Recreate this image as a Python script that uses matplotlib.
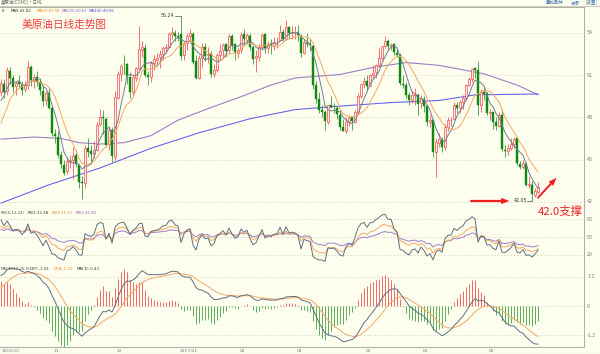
import numpy as np
import pandas as pd
import matplotlib
matplotlib.use("Agg")
import matplotlib.pyplot as plt
from matplotlib.patches import FancyArrowPatch
from matplotlib.lines import Line2D

plt.rcParams['font.family'] = ['Noto Sans CJK SC', 'DejaVu Sans']

# ---------------- data (daily OHLC, 2016-10-06 .. 2017-06-23) ----------------
oct_o = [49.8,50.4,49.9,51.3,50.8,50.2,50.5,50.3,50.0,50.3,51.6,50.6,50.9,50.5,49.9,49.2,49.7,48.7]
oct_h = [50.7,50.7,51.6,51.6,51.0,50.6,51.0,50.6,50.6,52.0,51.7,51.1,51.3,50.8,50.2,49.9,50.1,48.9]
oct_l = [49.5,49.4,49.6,50.4,49.8,49.6,50.1,49.6,49.8,50.0,50.2,50.1,50.2,49.6,48.8,48.9,48.6,46.7]
oct_c = [50.44,49.81,51.35,50.79,50.18,50.44,50.35,49.94,50.29,51.60,50.63,50.85,50.52,49.96,49.18,49.72,48.70,46.86]

nov_o = [46.8,46.6,45.3,44.6,44.2,44.9,45.0,45.3,44.6,43.4,43.3,45.8,45.6,45.4,45.7,47.5,48.0,47.9,46.1,47.1,45.2]
nov_h = [47.2,47.0,45.6,45.0,45.2,45.3,45.9,45.7,44.7,43.8,46.0,46.5,46.0,46.3,47.7,48.6,48.5,48.0,47.3,47.3,49.9]
nov_l = [46.2,45.1,44.4,43.9,44.0,44.4,43.6,44.5,43.0,42.2,43.0,45.2,44.7,45.1,45.6,47.4,46.8,45.9,45.7,44.8,45.0]
nov_c = [46.67,45.34,44.66,44.07,44.89,44.98,45.27,44.66,43.41,43.32,45.81,45.57,45.42,45.69,47.49,48.03,47.96,46.06,47.08,45.23,49.44]

dec_o = [49.4,51.1,51.8,51.8,50.9,49.8,50.8,51.5,52.8,52.9,51.0,50.9,51.9,52.1,52.3,52.5,52.9,53.0,53.9,54.0,53.8]
dec_h = [51.3,51.8,52.4,51.9,51.2,51.0,51.6,54.5,53.4,53.2,51.3,52.0,52.4,52.6,52.8,53.1,53.2,54.1,54.4,54.2,54.1]
dec_l = [49.3,50.6,51.1,50.4,49.4,49.6,50.6,51.4,52.3,50.9,50.3,50.5,51.4,51.7,51.5,52.1,52.6,53.0,53.6,53.4,53.4]
dec_c = [51.06,51.68,51.79,50.93,49.77,50.84,51.50,52.83,52.98,51.04,50.90,51.90,52.12,52.23,52.49,52.95,53.02,53.90,54.06,53.77,53.72]

jan_o = [53.9,52.4,53.3,53.8,53.9,52.0,50.8,52.2,53.0,52.4,52.5,51.1,51.4,52.4,52.8,53.2,52.8,53.8,53.2,52.6]
jan_h = [55.24,53.4,54.0,54.3,54.1,52.4,52.4,53.3,53.3,53.0,52.7,51.8,52.6,53.2,53.3,53.3,53.9,53.9,53.3,52.9]
jan_l = [52.1,52.1,52.8,53.4,51.8,50.7,50.7,51.6,52.0,51.9,50.9,50.9,51.2,52.1,52.3,52.3,52.6,52.8,52.1,52.2]
jan_c = [52.33,53.26,53.76,53.99,51.96,50.82,52.25,53.01,52.37,52.48,51.08,51.37,52.42,52.75,53.18,52.75,53.78,53.17,52.63,52.81]

feb_o = [52.8,53.9,53.5,53.8,53.0,52.2,52.3,53.0,53.9,52.9,53.2,53.1,53.4,53.5,54.1,53.6,54.4,54.0,54.0]
feb_h = [54.1,54.3,54.0,54.0,53.1,52.8,53.2,54.0,53.9,53.4,53.6,53.7,53.7,54.6,54.3,54.9,54.5,54.5,54.5]
feb_l = [52.6,53.1,53.2,52.8,51.8,51.2,52.0,52.8,52.6,52.6,52.5,52.8,52.9,53.4,53.4,53.5,53.6,53.6,53.6]
feb_c = [53.88,53.54,53.83,53.01,52.17,52.34,53.00,53.86,52.93,53.20,53.11,53.36,53.40,54.06,53.59,54.45,53.99,54.05,54.01]

mar_o = [54.0,53.8,52.6,53.3,53.2,53.1,50.3,49.3,48.5,48.4,47.7,48.9,48.8,48.7,48.2,47.3,47.0,47.7,48.0,47.7,48.4,49.5,50.4]
mar_h = [54.6,53.9,53.6,54.0,53.6,53.2,50.6,49.8,48.9,48.5,48.9,49.5,49.0,48.8,48.5,47.9,48.0,48.2,48.1,48.5,49.7,50.4,50.9]
mar_l = [53.4,52.3,52.5,53.0,52.7,50.0,49.0,48.3,48.0,47.1,47.5,48.7,48.3,47.9,47.1,47.0,46.9,47.4,47.1,47.6,48.3,49.4,50.1]
mar_c = [53.83,52.61,53.33,53.20,53.14,50.28,49.28,48.49,48.40,47.72,48.86,48.75,48.78,48.22,47.34,47.04,47.70,47.97,47.73,48.37,49.51,50.35,50.60]

apr_o = [50.6,50.2,51.0,51.2,51.7,52.2,53.1,53.4,53.1,53.2,52.6,52.4,50.4,50.3,49.6,49.2,49.6,49.6,49.0]
apr_h = [51.0,51.1,51.7,51.8,52.9,53.1,53.8,53.6,53.3,53.3,52.9,52.6,51.0,50.5,49.8,49.9,50.1,49.7,49.6]
apr_l = [49.9,50.2,50.8,50.8,51.6,52.1,52.9,52.8,52.8,52.4,52.3,50.3,50.1,49.4,48.9,49.0,48.9,48.2,48.7]
apr_c = [50.24,51.03,51.15,51.70,52.24,53.08,53.40,53.11,53.18,52.65,52.41,50.44,50.27,49.62,49.23,49.56,49.62,48.97,49.33]

may_o = [49.3,48.8,47.7,47.8,45.5,46.2,46.4,45.9,47.3,47.8,47.9,48.9,48.7,49.1,49.4,50.3,50.7,51.5,51.4,48.9,49.8,49.7]
may_h = [49.5,48.9,48.2,47.9,46.5,46.9,46.6,47.5,48.0,48.0,49.1,49.1,49.2,49.6,50.4,50.9,51.5,51.6,52.0,50.0,50.2,49.8]
may_l = [48.4,47.4,47.3,45.2,43.76,45.9,45.5,45.7,47.0,47.4,47.8,48.3,48.3,48.6,49.2,50.2,50.5,50.8,48.2,48.4,49.2,48.2]
may_c = [48.84,47.66,47.82,45.52,46.22,46.43,45.88,47.33,47.83,47.84,48.85,48.66,49.07,49.35,50.33,50.73,51.47,51.36,48.90,49.80,49.66,48.32]

jun_o = [48.3,48.4,47.7,47.4,48.2,45.7,45.6,45.8,46.1,46.5,44.7,44.5,44.7,43.2,43.2,42.5,42.7]
jun_h = [48.6,48.4,48.0,48.4,48.6,46.0,46.1,46.5,46.6,46.6,44.9,45.0,44.8,43.8,43.5,43.0,43.4]
jun_l = [47.8,47.2,47.1,47.3,45.6,45.2,45.3,45.7,45.8,44.6,44.3,44.3,43.1,43.0,42.05,42.3,42.6]
jun_c = [48.36,47.66,47.40,48.19,45.72,45.64,45.83,46.08,46.46,44.73,44.46,44.74,43.20,43.23,42.53,42.74,43.01]

# closes before the visible window (for MA5/MA10/RSI/MACD warm-up)
warmup_closes = [40.06,39.51,40.83,41.93,41.80,43.02,42.77,41.71,43.49,44.49,45.74,46.58,46.79,48.22,
                 48.52,47.05,48.10,46.77,47.33,47.64,46.98,46.35,44.70,43.16,44.44,44.83,45.50,47.62,
                 45.88,46.29,44.90,43.58,43.91,43.03,43.30,43.44,45.34,46.32,44.48,45.93,44.67,47.05,
                 47.83,48.24,48.81,48.69,49.83]

# long moving averages (bar index, value)
ma100_idx = [0, 11, 20, 26, 33, 41, 50, 59, 70, 81, 90, 98, 113, 124, 135, 146, 161, 172, 179]
ma100_val = [46.45, 46.6, 46.5, 46.2, 46.1, 46.2, 46.7, 47.8, 48.7, 49.55, 50.3, 50.8, 51.05, 51.55, 51.9, 51.7, 51.1, 50.3, 49.61]
ma200_idx = [0, 16, 33, 50, 66, 83, 98, 113, 130, 146, 158, 179]
ma200_val = [41.9, 43.2, 44.4, 45.8, 46.9, 47.9, 48.55, 48.8, 49.05, 49.2, 49.6, 49.66]

month_labels = ["2016/10", "11", "12", "2017/01", "02", "03", "04", "05", "06"]
month_lengths = [18, 21, 21, 20, 19, 23, 19, 22, 17]

opens = np.array(oct_o + nov_o + dec_o + jan_o + feb_o + mar_o + apr_o + may_o + jun_o)
highs = np.array(oct_h + nov_h + dec_h + jan_h + feb_h + mar_h + apr_h + may_h + jun_h)
lows = np.array(oct_l + nov_l + dec_l + jan_l + feb_l + mar_l + apr_l + may_l + jun_l)
closes = np.array(oct_c + nov_c + dec_c + jan_c + feb_c + mar_c + apr_c + may_c + jun_c)
N = len(closes)
idx = np.arange(N)

# ---------------- indicators ----------------
s = pd.Series(list(warmup_closes) + list(closes))
ma5 = s.rolling(5).mean().values[-N:]
ma10 = s.rolling(10).mean().values[-N:]
ema12 = s.ewm(span=12, adjust=False).mean()
ema26 = s.ewm(span=26, adjust=False).mean()
dif = ema12 - ema26
dea = dif.ewm(span=9, adjust=False).mean()
hist = 2 * (dif - dea)
dif, dea, hist = dif.values[-N:], dea.values[-N:], hist.values[-N:]

def rsi(n):
    d = s.diff().fillna(0)
    up = d.clip(lower=0).ewm(alpha=1.0 / n, adjust=False).mean()
    ab = d.abs().ewm(alpha=1.0 / n, adjust=False).mean()
    return (up / ab * 100).values[-N:]

rsi6, rsi12, rsi24 = rsi(6), rsi(12), rsi(24)

# ---------------- figure ----------------
W, H = 600, 354
BG = '#fffff0'
fig = plt.figure(figsize=(6, 3.54), dpi=100, facecolor=BG)

def fx(px):
    return px / W

def fy(py):
    return 1 - py / H

right_px = 584
main_top, main_bot = 7, 209
rsi_bot = 264
macd_bot = 347

ax = fig.add_axes([0, fy(main_bot), fx(right_px), (main_bot - main_top) / H], facecolor=BG)
axr = fig.add_axes([0, fy(rsi_bot), fx(right_px), (rsi_bot - main_bot) / H], facecolor=BG)
axm = fig.add_axes([0, fy(macd_bot), fx(right_px), (macd_bot - rsi_bot) / H], facecolor=BG)

xl = (-1 / 3, (right_px - 1) / 3)
grid_c = '#d9d9c9'
spine_c = '#b0b0a8'
for a in (ax, axr, axm):
    a.set_xlim(*xl)
    a.set_xticks([])
    a.set_yticks([])
    for sp in a.spines.values():
        sp.set_visible(False)
    a.spines['right'].set_visible(True)
    a.spines['right'].set_color(spine_c)
    a.spines['right'].set_linewidth(0.8)
    a.spines['bottom'].set_visible(True)
    a.spines['bottom'].set_color(spine_c)
    a.spines['bottom'].set_linewidth(0.8)
ax.spines['top'].set_visible(True)
ax.spines['top'].set_color(spine_c)
ax.spines['top'].set_linewidth(0.8)

# main panel
ax.set_ylim(41.48, 55.85)
for lv in [54, 51, 48, 45, 42]:
    ax.axhline(lv, color=grid_c, lw=0.6, ls=(0, (2, 2)), zorder=0)

up = closes >= opens
dn = ~up
up_c = '#ef5b5b'
dn_c = '#118811'
ax.vlines(idx[up], lows[up], highs[up], color=up_c, lw=0.6, zorder=2)
ax.vlines(idx[dn], lows[dn], highs[dn], color='#3a9a3a', lw=0.6, zorder=2)
ax.bar(idx[up], np.maximum(closes[up] - opens[up], 0.03), bottom=opens[up], width=0.62,
       facecolor='#ffeeea', edgecolor=up_c, linewidth=0.55, zorder=3)
ax.bar(idx[dn], np.maximum(opens[dn] - closes[dn], 0.03), bottom=closes[dn], width=0.62,
       facecolor=dn_c, edgecolor=dn_c, linewidth=0.3, zorder=3)

ax.plot(idx, ma5, color='#6f7f8f', lw=0.7, zorder=4)
ax.plot(idx, ma10, color='#f5a860', lw=0.7, zorder=4)
ax.plot(ma100_idx, ma100_val, color='#9b7fc6', lw=0.8, zorder=1)
ax.plot(ma200_idx, ma200_val, color='#6666ee', lw=0.8, zorder=1)

# high / low markers
hi_i = int(np.argmax(highs))
lo_i = int(np.argmin(lows))
ax.plot([hi_i - 2, hi_i], [highs[hi_i]] * 2, color='#555555', lw=0.5)
ax.text(hi_i - 2.2, highs[hi_i], f"{highs[hi_i]:.2f}", fontsize=3.4, color='#333333',
        ha='right', va='center', family='DejaVu Sans')
ax.plot([lo_i - 1.6, lo_i], [lows[lo_i]] * 2, color='#555555', lw=0.5)
ax.text(lo_i - 1.7, lows[lo_i], f"{lows[lo_i]:.2f}", fontsize=3.4, color='#333333',
        ha='right', va='center', family='DejaVu Sans')

# red arrows
arr1 = FancyArrowPatch((lo_i - 21.5, lows[lo_i]), (lo_i - 6.6, lows[lo_i]),
                       arrowstyle='simple,head_width=4.5,head_length=6,tail_width=1.6',
                       mutation_scale=1, color='#f02020', lw=0, zorder=6)
ax.add_patch(arr1)
arr2 = FancyArrowPatch((lo_i + 1.2, lows[lo_i] + 0.05), (lo_i + 8.8, lows[lo_i] + 1.8),
                       arrowstyle='simple,head_width=4.5,head_length=6,tail_width=1.4',
                       mutation_scale=1, color='#f02020', lw=0, zorder=6, clip_on=False)
ax.add_patch(arr2)

# right-side axis labels
lab_kw = dict(fontsize=3.4, color='#777777', ha='left', va='center', family='DejaVu Sans')
for lv in [54, 51, 48, 45, 42]:
    fig.text(fx(587), fy(33 + (54 - lv) * 14.03), str(lv), **lab_kw)

# RSI panel
r_scale = (255 - 219.3) / 60
axr.set_ylim(20 - (rsi_bot - 255) / r_scale, 80 + (219.3 - main_bot) / r_scale)
for lv in [80, 50, 20]:
    axr.axhline(lv, color=grid_c, lw=0.6, ls=(0, (2, 2)), zorder=0)
    fig.text(fx(587), fy(255 - (lv - 20) * r_scale), str(lv), **lab_kw)
axr.plot(idx, rsi24, color='#9b7fc6', lw=0.7)
axr.plot(idx, rsi12, color='#f5a860', lw=0.7)
axr.plot(idx, rsi6, color='#5f6f80', lw=0.7)

# MACD panel
m_zero, m_scale = 306, 24.2
axm.set_ylim(-(macd_bot - m_zero) / m_scale, (m_zero - rsi_bot) / m_scale)
for lv in [1.2, 0, -1.2]:
    axm.axhline(lv, color=grid_c, lw=0.6, ls=(0, (2, 2)), zorder=0)
    fig.text(fx(587), fy(m_zero - lv * m_scale), f"{lv:g}", **lab_kw)
pos = hist >= 0
axm.vlines(idx[pos], 0, hist[pos], color='#ee6a6a', lw=0.7)
axm.vlines(idx[~pos], 0, hist[~pos], color='#5aae5a', lw=0.7)
axm.plot(idx, dea, color='#f5a860', lw=0.7)
axm.plot(idx, dif, color='#5f6f80', lw=0.7)

# date labels
starts = np.cumsum([0] + month_lengths[:-1])
for lab, st in zip(month_labels, starts):
    xpix = 1 + 3 * st - 1.5 if st > 0 else 2
    fig.text(fx(xpix), fy(351), lab, fontsize=3.2, color='#777777', ha='left', va='center',
             family='DejaVu Sans')
fig.add_artist(Line2D([0, 1], [fy(353.5), fy(353.5)], color=spine_c, lw=0.8))

# header
fig.add_artist(Line2D([0, 1], [fy(6), fy(6)], color='#cfcfc0', lw=0.8))
fig.text(fx(1), fy(2.6), "美原油(CONC)·日线", fontsize=3.2, color='#666666', va='center')
hdr_kw = dict(fontsize=3.2, color='#3d6fa8', va='center')
fig.text(fx(546), fy(2.6), "叠加品种", **hdr_kw)
fig.text(fx(571), fy(2.6), "关闭", **hdr_kw)
fig.text(fx(586), fy(2.6), "[设置]", **hdr_kw)

# legends
def legend_row(py, items):
    for xp, txt, col in items:
        fig.text(fx(xp), fy(py), txt, fontsize=2.8, color=col, va='center', family='DejaVu Sans')

legend_row(10.5, [(1.5, "K", '#333333'),
                  (11, f"MA5:{43.82:.2f}", '#333333'),
                  (36.5, f"MA10:{43.92:.2f}", '#e8872a'),
                  (62, f"MA100:{49.61:.2f}", '#8a5fb8'),
                  (88.5, f"MA200:{49.66:.2f}", '#4a4ae0')])
legend_row(213.5, [(1, "RSI(6,12,24)", '#555555'),
                   (27.5, "RSI1:32.48", '#333333'),
                   (52, "RSI2:31.67", '#e8872a'),
                   (76, "RSI3:35.92", '#8a5fb8')])
legend_row(268.5, [(1, "MACD(12,26,9)", '#555555'),
                   (30, "DIFF:-1.53", '#333333'),
                   (54, "DEA:-1.31", '#e8872a'),
                   (77, "MACD:-0.43", '#333333')])

# titles
fig.text(fx(22), fy(25), "美原油日线走势图", fontsize=7.7, color='#f04040', va='center', ha='left')
fig.text(fx(538), fy(211.5), "42.0支撑", fontsize=8.2, color='#f02020', va='center', ha='left',
         zorder=10)

fig.savefig("out.png", dpi=100, facecolor=BG)
